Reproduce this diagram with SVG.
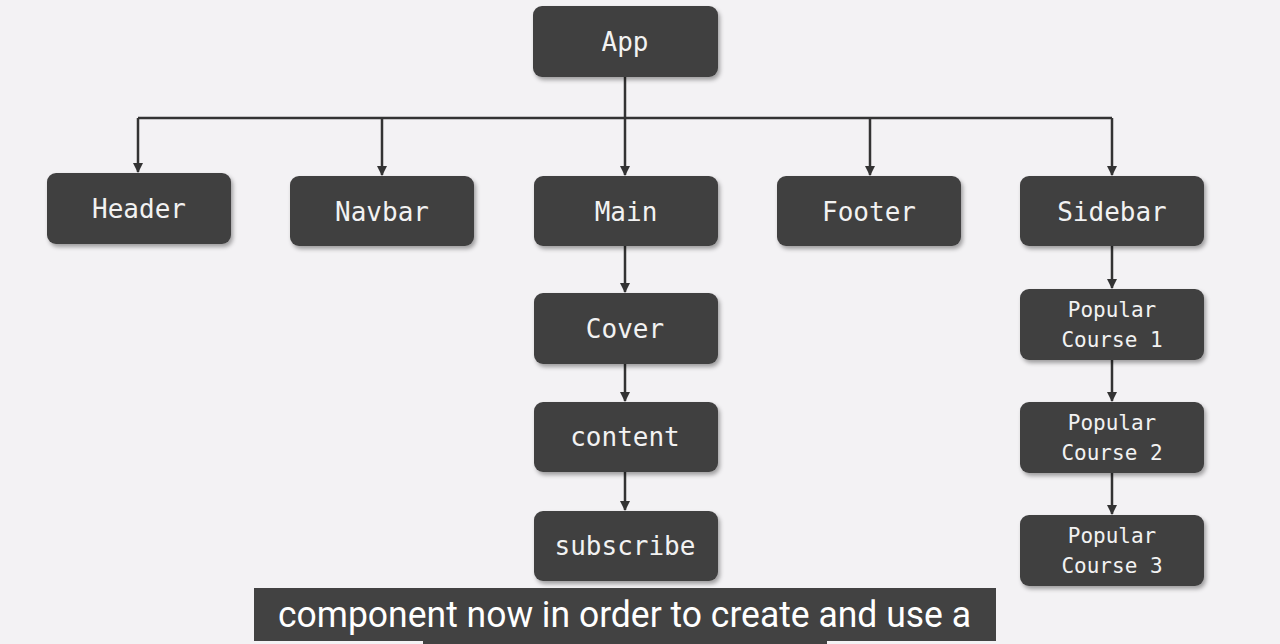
<svg xmlns="http://www.w3.org/2000/svg" width="1280" height="644" viewBox="0 0 1280 644">
<defs>
<filter id="sh" x="-10%" y="-10%" width="125%" height="130%">
<feDropShadow dx="2" dy="3" stdDeviation="2" flood-color="#000" flood-opacity="0.35"/>
</filter>
<marker id="ah" markerWidth="10" markerHeight="10" refX="9" refY="5" orient="auto" markerUnits="userSpaceOnUse">
<path d="M0,0 L10,5 L0,10 z" fill="#333"/>
</marker>
</defs>
<style>
.box{fill:#414041;filter:url(#sh)}
.lbl{font-family:"DejaVu Sans Mono","Liberation Mono",monospace;font-size:26px;fill:#f2f2f2;text-anchor:middle}
.sm{font-size:21px}
.ln{stroke:#333;stroke-width:2.5;fill:none}
.ar{marker-end:url(#ah)}
.cap{font-family:Roboto,"Liberation Sans",sans-serif;font-size:37px;fill:#ffffff}
</style>
<rect width="1280" height="644" fill="#f3f2f4"/>
<g id="connectors">
<path class="ln" d="M138,118 H1112"/>
<path class="ln ar" d="M625,77 V175"/>
<path class="ln ar" d="M138,118 V172"/>
<path class="ln ar" d="M382,118 V175"/>
<path class="ln ar" d="M870,118 V175"/>
<path class="ln ar" d="M1112,118 V175"/>
<path class="ln ar" d="M625,246 V292"/>
<path class="ln ar" d="M625,364 V401"/>
<path class="ln ar" d="M625,472 V510"/>
<path class="ln ar" d="M1112,246 V288"/>
<path class="ln ar" d="M1112,360 V401"/>
<path class="ln ar" d="M1112,473 V514"/>
</g>
<g id="app"><rect class="box" x="533" y="6" width="185" height="71" rx="9"/><text class="lbl" x="625" y="51">App</text></g>
<g id="header"><rect class="box" x="47" y="173" width="184" height="71" rx="9"/><text class="lbl" x="139" y="218">Header</text></g>
<g id="navbar"><rect class="box" x="290" y="176" width="184" height="70" rx="9"/><text class="lbl" x="382" y="221">Navbar</text></g>
<g id="main"><rect class="box" x="534" y="176" width="184" height="70" rx="9"/><text class="lbl" x="626" y="221">Main</text></g>
<g id="footer"><rect class="box" x="777" y="176" width="184" height="70" rx="9"/><text class="lbl" x="869" y="221">Footer</text></g>
<g id="sidebar"><rect class="box" x="1020" y="176" width="184" height="70" rx="9"/><text class="lbl" x="1112" y="221">Sidebar</text></g>
<g id="cover"><rect class="box" x="534" y="293" width="184" height="71" rx="9"/><text class="lbl" x="625" y="338">Cover</text></g>
<g id="content"><rect class="box" x="534" y="402" width="184" height="70" rx="9"/><text class="lbl" x="625" y="446">content</text></g>
<g id="subscribe"><rect class="box" x="534" y="511" width="184" height="70" rx="9"/><text class="lbl" x="625" y="555">subscribe</text></g>
<g id="pc1"><rect class="box" x="1020" y="289" width="184" height="71" rx="9"/><text class="lbl sm" x="1112" y="317">Popular</text><text class="lbl sm" x="1112" y="347">Course 1</text></g>
<g id="pc2"><rect class="box" x="1020" y="402" width="184" height="71" rx="9"/><text class="lbl sm" x="1112" y="430">Popular</text><text class="lbl sm" x="1112" y="460">Course 2</text></g>
<g id="pc3"><rect class="box" x="1020" y="515" width="184" height="71" rx="9"/><text class="lbl sm" x="1112" y="543">Popular</text><text class="lbl sm" x="1112" y="573">Course 3</text></g>
<g id="caption">
<rect x="254" y="588" width="742" height="53" fill="#424242"/>
<rect x="423" y="641" width="404" height="3" fill="#424242"/>
<text class="cap" x="278" y="627" textLength="693" lengthAdjust="spacingAndGlyphs">component now in order to create and use a</text>
</g>
</svg>
